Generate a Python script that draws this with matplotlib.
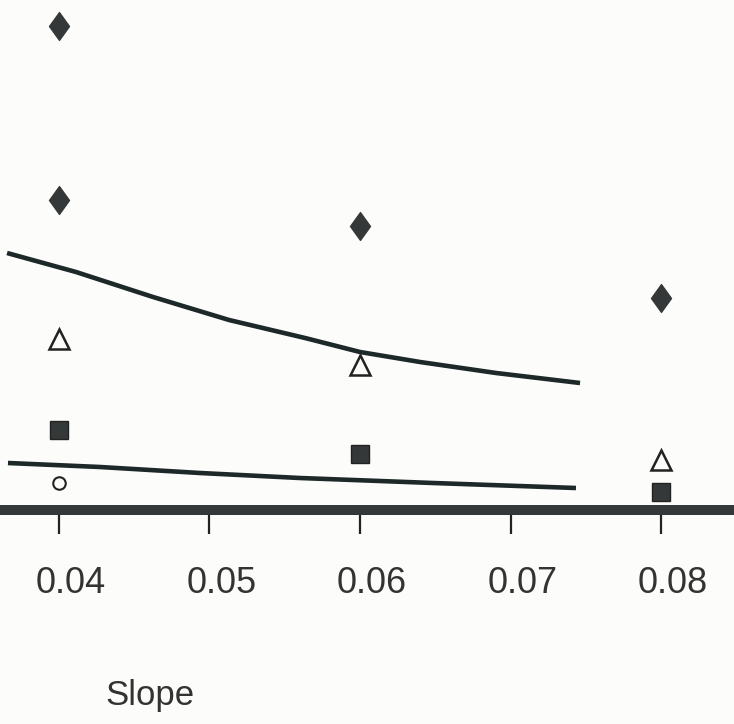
import numpy as np
import matplotlib.pyplot as plt
from matplotlib.path import Path
from matplotlib.transforms import ScaledTranslation

# Point estimates at each slope value
slope_pts = [0.04, 0.06, 0.08]
diamond_x = [0.04, 0.04, 0.06, 0.08]
diamond_y = [4.84, 3.10, 2.84, 2.12]
triangle_y = [1.715, 1.45, 0.505]
square_y = [0.80, 0.56, 0.18]
circle_x = [0.04]
circle_y = [0.27]

# Fitted curves
upper_x = [0.03655, 0.04113, 0.04625, 0.05130, 0.05635, 0.06000, 0.06399, 0.06904, 0.07462]
upper_y = [2.57, 2.38, 2.13, 1.90, 1.72, 1.58, 1.48, 1.37, 1.27]
lower_x = [0.03661, 0.04272, 0.04937, 0.05601, 0.06485, 0.07435]
lower_y = [0.47, 0.43, 0.37, 0.32, 0.27, 0.22]

tick_vals = [0.04, 0.05, 0.06, 0.07, 0.08]
tick_labels = ['0.04', '0.05', '0.06', '0.07', '0.08']

ink = '#353838'
line_ink = '#1d2828'
paper = '#fcfcfa'

plt.rcParams['font.family'] = ['Liberation Sans', 'DejaVu Sans']

fig = plt.figure(figsize=(7.34, 7.24), dpi=100, facecolor=paper)
ax = fig.add_axes([0, 214 / 724, 1, 510 / 724], facecolor=paper)

# tall diamond marker
diamond = Path([(0, 1), (0.72, 0), (0, -1), (-0.72, 0), (0, 1)],
               [Path.MOVETO, Path.LINETO, Path.LINETO, Path.LINETO, Path.CLOSEPOLY])

ax.plot(upper_x, upper_y, color=line_ink, lw=3.3, solid_capstyle='butt',
        solid_joinstyle='round')
ax.plot(lower_x, lower_y, color=line_ink, lw=3.3, solid_capstyle='butt',
        solid_joinstyle='round')

ax.plot(diamond_x, diamond_y, ls='none', marker=diamond, ms=20,
        color=ink, mec=ink)
ax.plot(slope_pts, triangle_y, ls='none', marker='^', ms=15,
        mfc='none', mec='#222', mew=1.8)
ax.plot(slope_pts, square_y, ls='none', marker='s', ms=13,
        color=ink, mec='#222')
ax.plot(circle_x, circle_y, ls='none', marker='o', ms=9,
        mfc='none', mec='#222', mew=1.5)

ax.set_xlim(0.03608, 0.08485)
ax.set_ylim(0, 5.1)

for side in ['top', 'left', 'right']:
    ax.spines[side].set_visible(False)
ax.spines['bottom'].set_linewidth(7.2)
ax.spines['bottom'].set_color(ink)

ax.set_yticks([])
ax.set_xticks(tick_vals)
ax.set_xticklabels(tick_labels)
ax.tick_params(axis='x', direction='out', length=17, width=1.6,
               color='#222', pad=23, labelsize=26, labelcolor='#333')

shift = ScaledTranslation(12 / 100, 0, fig.dpi_scale_trans)
for lab in ax.get_xticklabels():
    lab.set_transform(lab.get_transform() + shift)

fig.text(105 / 734, 19 / 724, 'Slope', ha='left', va='baseline',
         fontsize=25, color='#333')

fig.savefig('out.png', dpi=100, facecolor=paper)
